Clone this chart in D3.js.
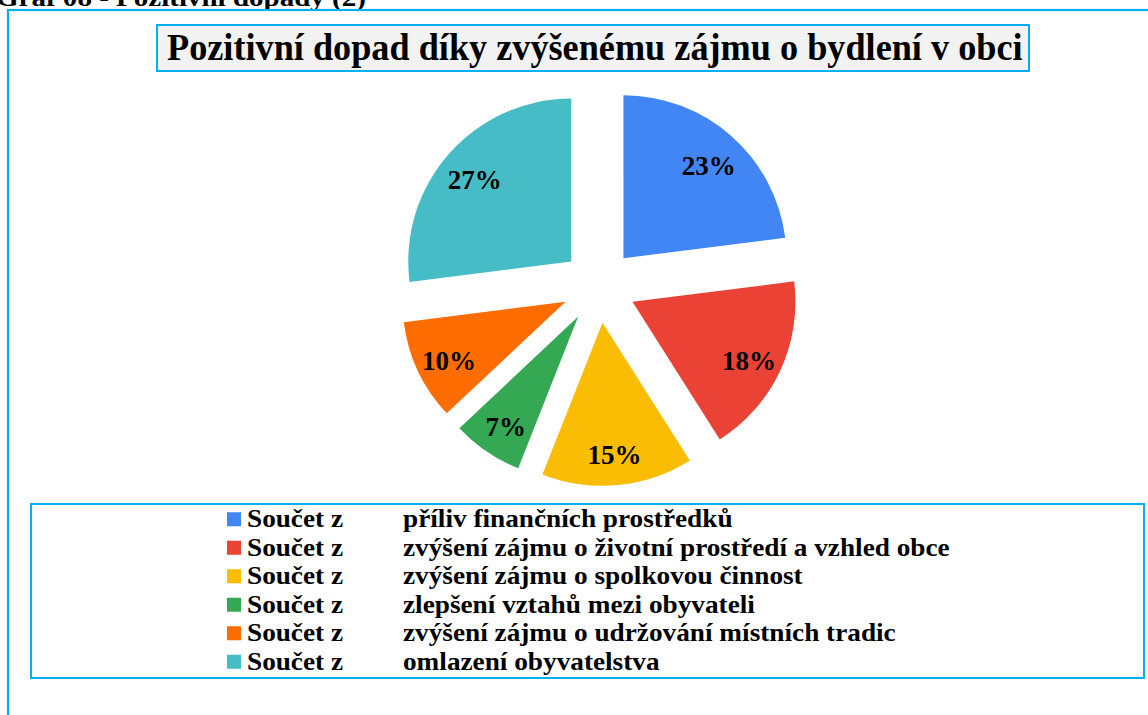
<!DOCTYPE html>
<html>
<head>
<meta charset="utf-8">
<script src="https://cdn.jsdelivr.net/npm/d3@7"></script>
<style>
  html, body { margin: 0; padding: 0; background: #ffffff; }
  svg { display: block; }
  text { font-family: "Liberation Serif", "Times New Roman", serif; font-weight: bold; fill: #000; }
</style>
</head>
<body>
<svg id="chart" width="1148" height="715"></svg>
<script>
// Share of answers per positive effect (percent)
const categories = [
  "příliv finančních prostředků",
  "zvýšení zájmu o životní prostředí a vzhled obce",
  "zvýšení zájmu o spolkovou činnost",
  "zlepšení vztahů mezi obyvateli",
  "zvýšení zájmu o udržování místních tradic",
  "omlazení obyvatelstva"
];
const values = [23, 18, 15, 7, 10, 27];
const seriesPrefix = "Součet z";
const colors = ["#4285f4", "#ea4335", "#fbbc04", "#34a853", "#ff6d01", "#46bdc6"];
const chartTitle = "Pozitivní dopad díky zvýšenému zájmu o bydlení v obci";
const captionText = "Graf 08 - Pozitivní dopady (2)";

const svg = d3.select("#chart");
const frameColor = "#00b0f0";

// Squeeze/stretch a text element horizontally so it spans the given width
function fitWidth(sel, x, width) {
  const w = sel.node().getComputedTextLength();
  const k = width / w;
  sel.attr("x", 0).attr("transform", `translate(${x},0) scale(${k},1)`);
}

// caption above the frame (its upper part runs off the page top)
const cap = svg.append("text")
  .attr("y", 6)
  .attr("font-size", 26)
  .text(captionText);
fitWidth(cap, -4, 370);

// outer frame
svg.append("rect")
  .attr("x", 8).attr("y", 10)
  .attr("width", 1160).attr("height", 720)
  .attr("fill", "none")
  .attr("stroke", frameColor).attr("stroke-width", 2.2);

// title box
svg.append("rect")
  .attr("x", 157).attr("y", 25)
  .attr("width", 872).attr("height", 46)
  .attr("fill", "#f2f2f2")
  .attr("stroke", frameColor).attr("stroke-width", 2);
const title = svg.append("text")
  .attr("y", 60)
  .attr("font-size", 37)
  .text(chartTitle);
fitWidth(title, 167, 856);

// exploded pie
const cx = 599, cy = 286, radius = 163, explode = 37;
const pie = d3.pie().sort(null).value(d => d)(values);
const arc = d3.arc().innerRadius(0).outerRadius(radius);
const labelArc = d3.arc().innerRadius(radius * 0.79).outerRadius(radius * 0.79);

const g = svg.append("g").attr("transform", `translate(${cx},${cy})`);
const slices = g.selectAll("g.slice")
  .data(pie)
  .enter().append("g")
  .attr("class", "slice")
  .attr("transform", d => {
    const a = (d.startAngle + d.endAngle) / 2;
    return `translate(${explode * Math.sin(a)},${-explode * Math.cos(a)})`;
  });

slices.append("path")
  .attr("d", arc)
  .attr("fill", (d, i) => colors[i]);

slices.append("text")
  .attr("transform", d => {
    const [x, y] = labelArc.centroid(d);
    return `translate(${x},${y + 4})`;
  })
  .attr("text-anchor", "middle")
  .attr("dominant-baseline", "central")
  .attr("font-size", 27)
  .text(d => d3.format(".0f")(d.data) + "%");

// legend box
svg.append("rect")
  .attr("x", 31).attr("y", 504)
  .attr("width", 1113).attr("height", 174)
  .attr("fill", "#ffffff")
  .attr("stroke", frameColor).attr("stroke-width", 2);

const rowY = d3.scaleBand().domain(d3.range(categories.length)).range([505, 676]);
const legend = svg.append("g");
const rows = legend.selectAll("g.row")
  .data(categories)
  .enter().append("g")
  .attr("class", "row")
  .attr("transform", (d, i) => `translate(0,${rowY(i) + rowY.bandwidth() / 2 + 8})`);

rows.append("rect")
  .attr("x", 227).attr("y", -15)
  .attr("width", 14).attr("height", 14)
  .attr("fill", (d, i) => colors[i]);

rows.append("text")
  .attr("font-size", 25)
  .text(seriesPrefix)
  .each(function () { fitWidth(d3.select(this), 247, 96); });

const labelTexts = rows.append("text")
  .attr("font-size", 25)
  .text(d => d);
// common horizontal scale taken from the longest entry
const longest = d3.max(labelTexts.nodes(), n => n.getComputedTextLength());
const kLab = 547 / longest;
labelTexts.attr("transform", `translate(403,0) scale(${kLab},1)`);
</script>
</body>
</html>
